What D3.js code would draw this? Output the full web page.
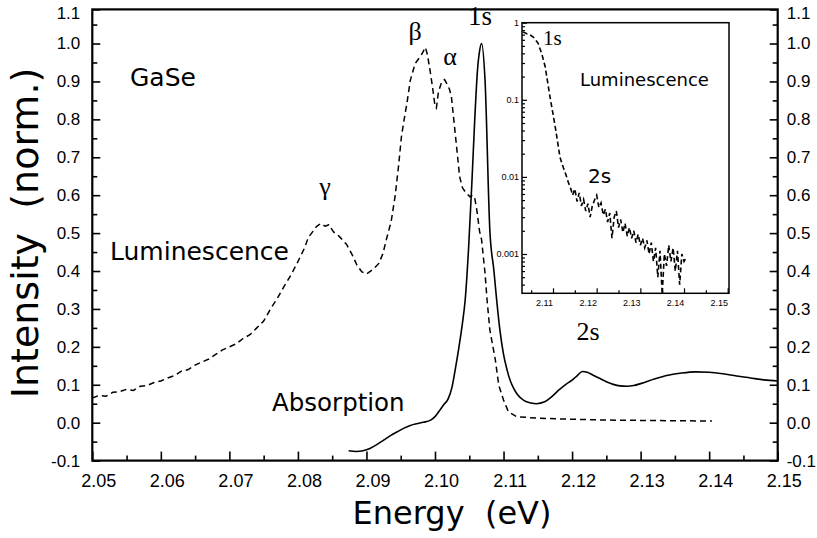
<!DOCTYPE html>
<html>
<head>
<meta charset="utf-8">
<script src="https://cdn.jsdelivr.net/npm/d3@7"></script>
<style>
body { margin: 0; background: #fff; }
svg { display: block; }
text { white-space: pre; }
</style>
</head>
<body>
<div id="chart"></div>
<script>
// Luminescence (dashed), main panel
var lumEnergy = [2.0500, 2.0510, 2.0520, 2.0530, 2.0540, 2.0550, 2.0560, 2.0570, 2.0580, 2.0590,
    2.0600, 2.0610, 2.0620, 2.0630, 2.0640, 2.0650, 2.0660, 2.0670, 2.0680, 2.0690,
    2.0700, 2.0710, 2.0720, 2.0730, 2.0740, 2.0750, 2.0760, 2.0770, 2.0780, 2.0790,
    2.0800, 2.0810, 2.0815, 2.0820, 2.0827, 2.0833, 2.0840, 2.0845, 2.0852, 2.0860,
    2.0871, 2.0880, 2.0886, 2.0893, 2.0900, 2.0910, 2.0918, 2.0924, 2.0930, 2.0936,
    2.0942, 2.0947, 2.0951, 2.0955, 2.0959, 2.0964, 2.0971, 2.0977, 2.0981, 2.0986,
    2.0989, 2.0992, 2.0996, 2.1000, 2.1002, 2.1005, 2.1010, 2.1014, 2.1017, 2.1021,
    2.1024, 2.1028, 2.1032, 2.1036, 2.1040, 2.1044, 2.1051, 2.1055, 2.1058, 2.1061,
    2.1065, 2.1068, 2.1073, 2.1076, 2.1080, 2.1088, 2.1093, 2.1100, 2.1107, 2.1119,
    2.1148, 2.1200, 2.1250, 2.1300, 2.1350, 2.1404];
var lumValue = [0.065, 0.072, 0.070, 0.080, 0.082, 0.088, 0.085, 0.096, 0.098, 0.106,
    0.110, 0.118, 0.124, 0.136, 0.140, 0.152, 0.160, 0.168, 0.180, 0.192,
    0.200, 0.208, 0.222, 0.232, 0.250, 0.268, 0.300, 0.328, 0.360, 0.390,
    0.425, 0.462, 0.488, 0.500, 0.517, 0.525, 0.518, 0.522, 0.503, 0.492,
    0.470, 0.440, 0.416, 0.398, 0.392, 0.405, 0.420, 0.446, 0.490, 0.530,
    0.600, 0.680, 0.754, 0.800, 0.842, 0.903, 0.947, 0.962, 0.973, 0.990,
    0.970, 0.938, 0.890, 0.835, 0.830, 0.872, 0.900, 0.905, 0.895, 0.880,
    0.859, 0.789, 0.719, 0.648, 0.620, 0.609, 0.596, 0.600, 0.592, 0.561,
    0.505, 0.482, 0.394, 0.323, 0.245, 0.166, 0.099, 0.060, 0.029, 0.016,
    0.012, 0.009, 0.007, 0.006, 0.005, 0.0045];

// Absorption (solid), main panel
var absEnergy = [2.0874, 2.0885, 2.0895, 2.0905, 2.0915, 2.0925, 2.0935, 2.0945, 2.0954, 2.0963,
    2.0973, 2.0983, 2.0993, 2.1000, 2.1007, 2.1013, 2.1019, 2.1025, 2.1030, 2.1035,
    2.1040, 2.1044, 2.1049, 2.1054, 2.1058, 2.1062, 2.1065, 2.1068, 2.1073, 2.1080,
    2.1086, 2.1090, 2.1095, 2.1100, 2.1105, 2.1110, 2.1115, 2.1120, 2.1130, 2.1140,
    2.1148, 2.1160, 2.1170, 2.1180, 2.1190, 2.1200, 2.1208, 2.1215, 2.1222, 2.1230,
    2.1240, 2.1250, 2.1260, 2.1270, 2.1280, 2.1290, 2.1300, 2.1320, 2.1340, 2.1360,
    2.1380, 2.1400, 2.1420, 2.1440, 2.1460, 2.1480, 2.1500];
var absValue = [-0.074, -0.076, -0.074, -0.068, -0.058, -0.046, -0.034, -0.024, -0.015, -0.008,
    -0.003, 0.001, 0.006, 0.016, 0.033, 0.048, 0.062, 0.095, 0.145, 0.200,
    0.262, 0.323, 0.460, 0.640, 0.800, 0.930, 0.980, 1.000, 0.903, 0.508,
    0.400, 0.323, 0.240, 0.180, 0.140, 0.110, 0.090, 0.075, 0.058, 0.052,
    0.050, 0.055, 0.068, 0.085, 0.100, 0.112, 0.125, 0.135, 0.133, 0.126,
    0.117, 0.108, 0.101, 0.097, 0.096, 0.098, 0.103, 0.115, 0.125, 0.131,
    0.134, 0.133, 0.129, 0.123, 0.118, 0.113, 0.110];

// Luminescence on log scale, inset
var insetEnergy = [2.1031, 2.1040, 2.1047, 2.1056, 2.1066, 2.1074, 2.1082, 2.1093, 2.1105, 2.1116,
    2.1124, 2.1130, 2.1135, 2.1140, 2.1145, 2.1150, 2.1155, 2.1160, 2.1165, 2.1170,
    2.1175, 2.1180, 2.1185, 2.1190, 2.1195, 2.1200, 2.1205, 2.1210, 2.1215, 2.1220,
    2.1225, 2.1230, 2.1235, 2.1240, 2.1245, 2.1250, 2.1255, 2.1260, 2.1265, 2.1270,
    2.1275, 2.1280, 2.1285, 2.1290, 2.1295, 2.1300, 2.1305, 2.1310, 2.1315, 2.1320,
    2.1325, 2.1330, 2.1335, 2.1340, 2.1345, 2.1350, 2.1355, 2.1360, 2.1365, 2.1370,
    2.1375, 2.1380, 2.1385, 2.1390, 2.1395, 2.1400, 2.1405];
var insetValue = [0.76, 0.72, 0.70, 0.64, 0.54, 0.40, 0.27, 0.11, 0.045, 0.018,
    0.013, 0.0105, 0.0085, 0.0072, 0.0058, 0.0070, 0.0048, 0.0062, 0.0042, 0.0051,
    0.0036, 0.0045, 0.0030, 0.0042, 0.0050, 0.0058, 0.0040, 0.0046, 0.0032, 0.0038,
    0.0026, 0.0034, 0.0016, 0.0030, 0.0036, 0.0022, 0.0028, 0.0019, 0.0025, 0.0017,
    0.0022, 0.0016, 0.0020, 0.0014, 0.0018, 0.0013, 0.0016, 0.0012, 0.0015, 0.0010,
    0.0014, 0.0008, 0.0012, 0.0005, 0.0011, 0.0003, 0.0010, 0.0007, 0.0013, 0.0008,
    0.0012, 0.0006, 0.0011, 0.0004, 0.0010, 0.0008, 0.0009];

// Ticks
var xTicks = [2.05, 2.06, 2.07, 2.08, 2.09, 2.10, 2.11, 2.12, 2.13, 2.14, 2.15];
var xMinorTicks = [2.055, 2.065, 2.075, 2.085, 2.095, 2.105, 2.115, 2.125, 2.135, 2.145];
var yTicks = [-0.1, 0.0, 0.1, 0.2, 0.3, 0.4, 0.5, 0.6, 0.7, 0.8, 0.9, 1.0, 1.1];
var yMinorTicks = [-0.05, 0.05, 0.15, 0.25, 0.35, 0.45, 0.55, 0.65, 0.75, 0.85, 0.95, 1.05];
var insetXTicks = [2.11, 2.12, 2.13, 2.14, 2.15];
var insetXMinorTicks = [2.105, 2.115, 2.125, 2.135, 2.145];
var insetYTicks = [0.001, 0.01, 0.1, 1];
var insetYLabels = ["0.001", "0.01", "0.1", "1"];

var width = 817, height = 538;

var svg = d3.select("#chart").append("svg")
    .attr("width", width)
    .attr("height", height);

/* Main scales */
var x = d3.scaleLinear().domain([2.05, 2.15]).range([92.3, 777.7]);
var y = d3.scaleLinear().domain([-0.1, 1.09]).range([460.6, 9.4]).clamp(true);

var tickFont = "'Liberation Sans', Arial, sans-serif";
var labelFont = "'DejaVu Sans', sans-serif";
var serifFont = "'Liberation Serif', 'Times New Roman', serif";

function styleAxis(g, size){
    g.select(".domain").remove();
    g.selectAll("line").attr("stroke", "#000").attr("stroke-width", 1.6);
    g.selectAll("text").attr("font-family", tickFont).attr("font-size", size).attr("fill", "#000");
    // top label sits a little under the frame corner
    g.selectAll("text").filter(function(d){ return d === 1.1; }).attr("dy", "0.55em");
}

/* Bottom axis */
svg.append("g")
    .attr("transform", "translate(0," + y(-0.1) + ")")
    .call(d3.axisBottom(x).tickValues(xTicks).tickSizeInner(-9).tickSizeOuter(0).tickPadding(14)
        .tickFormat(function(d){ return d.toFixed(2); }))
    .call(styleAxis, 18)
    .selectAll("text").attr("dx", 6);
svg.append("g")
    .attr("transform", "translate(0," + y(-0.1) + ")")
    .call(d3.axisBottom(x).tickValues(xMinorTicks).tickSizeInner(-5).tickSizeOuter(0).tickFormat(""))
    .call(styleAxis, 18);

/* Left & right axes */
svg.append("g")
    .attr("transform", "translate(" + x(2.05) + ",0)")
    .call(d3.axisLeft(y).tickValues(yTicks).tickSizeInner(-8).tickSizeOuter(0).tickPadding(12)
        .tickFormat(function(d){ return d.toFixed(1); }))
    .call(styleAxis, 17);
svg.append("g")
    .attr("transform", "translate(" + x(2.05) + ",0)")
    .call(d3.axisLeft(y).tickValues(yMinorTicks).tickSizeInner(-5).tickSizeOuter(0).tickFormat(""))
    .call(styleAxis, 17);
svg.append("g")
    .attr("transform", "translate(" + x(2.15) + ",0)")
    .call(d3.axisRight(y).tickValues(yTicks).tickSizeInner(-8).tickSizeOuter(0).tickPadding(9)
        .tickFormat(function(d){ return d.toFixed(1); }))
    .call(styleAxis, 17);
svg.append("g")
    .attr("transform", "translate(" + x(2.15) + ",0)")
    .call(d3.axisRight(y).tickValues(yMinorTicks).tickSizeInner(-5).tickSizeOuter(0).tickFormat(""))
    .call(styleAxis, 17);

/* Frame */
svg.append("rect")
    .attr("x", x(2.05)).attr("y", y(1.1))
    .attr("width", x(2.15) - x(2.05)).attr("height", y(-0.1) - y(1.1))
    .attr("fill", "none").attr("stroke", "#000").attr("stroke-width", 2.2);

/* Curves */
var lumData = d3.zip(lumEnergy, lumValue);
var absData = d3.zip(absEnergy, absValue);

svg.append("path")
    .datum(lumData)
    .attr("fill", "none").attr("stroke", "#000").attr("stroke-width", 1.5)
    .attr("stroke-dasharray", "6,4")
    .attr("d", d3.line().x(function(d){ return x(d[0]); }).y(function(d){ return y(d[1]); }));

svg.append("path")
    .datum(absData)
    .attr("fill", "none").attr("stroke", "#000").attr("stroke-width", 1.6)
    .attr("d", d3.line().curve(d3.curveMonotoneX)
        .x(function(d){ return x(d[0]); }).y(function(d){ return y(d[1]); }));

/* Labels in main panel */
function label(txt, px, py, font, size, anchor){
    return svg.append("text")
        .attr("x", px).attr("y", py)
        .attr("font-family", font).attr("font-size", size)
        .attr("text-anchor", anchor || "start")
        .attr("fill", "#000")
        .text(txt);
}
label("GaSe", 130, 86, labelFont, 25);
label("Luminescence", 110, 260, labelFont, 25);
label("Absorption", 272, 411, labelFont, 24.5);
label("\u03b2", 415, 40, serifFont, 26, "middle");
label("\u03b1", 450, 65, serifFont, 26, "middle");
label("\u03b3", 325, 195, serifFont, 26, "middle");
label("1s", 480, 25, serifFont, 27, "middle");
label("2s", 588, 340, serifFont, 26, "middle");

/* Axis titles */
svg.append("text")
    .attr("transform", "translate(38,233) rotate(-90)")
    .attr("font-family", labelFont).attr("font-size", 38)
    .attr("text-anchor", "middle")
    .text("Intensity  (norm.)");
label("Energy  (eV)", 452, 524, labelFont, 32, "middle");

/* Inset */
var ix = d3.scaleLinear().domain([2.1029, 2.1503]).range([522, 729]);
var iy = d3.scaleLog().domain([Math.pow(10, -3.51), 1]).range([293.3, 22.7]);

var inset = svg.append("g").attr("class", "inset");
inset.append("rect")
    .attr("x", ix.range()[0]).attr("y", iy.range()[1])
    .attr("width", ix.range()[1] - ix.range()[0]).attr("height", iy.range()[0] - iy.range()[1])
    .attr("fill", "#fff");

var iyMinor = [];
insetYTicks.forEach(function(t){
    [2, 3, 4, 5, 6, 7, 8, 9].forEach(function(m){
        if (t * m < 1) iyMinor.push(t * m);
    });
});
[0.0004, 0.0005, 0.0006, 0.0007, 0.0008, 0.0009].forEach(function(v){ iyMinor.push(v); });

function styleInsetAxis(g){
    g.select(".domain").remove();
    g.selectAll("line").attr("stroke", "#000").attr("stroke-width", 1.2);
    g.selectAll("text").attr("font-family", tickFont).attr("font-size", 9).attr("fill", "#000");
}

inset.append("g")
    .attr("transform", "translate(0," + iy.range()[0] + ")")
    .call(d3.axisBottom(ix).tickValues(insetXTicks).tickSizeInner(-5).tickSizeOuter(0).tickPadding(6)
        .tickFormat(function(d){ return d.toFixed(2); }))
    .call(styleInsetAxis)
    .selectAll("text").attr("dx", -9);
inset.append("g")
    .attr("transform", "translate(0," + iy.range()[0] + ")")
    .call(d3.axisBottom(ix).tickValues(insetXMinorTicks).tickSizeInner(-3).tickSizeOuter(0).tickFormat(""))
    .call(styleInsetAxis);
inset.append("g")
    .attr("transform", "translate(" + ix.range()[0] + ",0)")
    .call(d3.axisLeft(iy).tickValues(insetYTicks).tickSizeInner(-5).tickSizeOuter(0).tickPadding(3)
        .tickFormat(function(d, i){ return insetYLabels[i]; }))
    .call(styleInsetAxis);
inset.append("g")
    .attr("transform", "translate(" + ix.range()[0] + ",0)")
    .call(d3.axisLeft(iy).tickValues(iyMinor).tickSizeInner(-3).tickSizeOuter(0).tickFormat(""))
    .call(styleInsetAxis);

inset.append("path")
    .datum(d3.zip(insetEnergy, insetValue))
    .attr("fill", "none").attr("stroke", "#000").attr("stroke-width", 1.6)
    .attr("stroke-dasharray", "5,3")
    .attr("d", d3.line().x(function(d){ return ix(d[0]); }).y(function(d){ return iy(d[1]); }));

inset.append("rect")
    .attr("x", ix.range()[0]).attr("y", iy.range()[1])
    .attr("width", ix.range()[1] - ix.range()[0]).attr("height", iy.range()[0] - iy.range()[1])
    .attr("fill", "none").attr("stroke", "#000").attr("stroke-width", 1.5);

label("1s", 543, 45, serifFont, 21);
label("Luminescence", 580, 86, labelFont, 18);
label("2s", 588, 183, labelFont, 20);
</script>
</body>
</html>
